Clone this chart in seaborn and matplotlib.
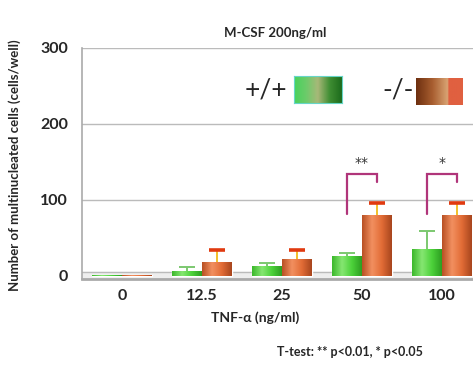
import numpy as np
import pandas as pd
import matplotlib
matplotlib.use("Agg")
import matplotlib.pyplot as plt
import seaborn as sns
from matplotlib.colors import LinearSegmentedColormap

# data
doses = ["0", "12.5", "25", "50", "100"]
genotypes = ["+/+", "-/-"]
wt_cells = [1.5, 7, 13, 26, 35]
wt_err = [0, 5, 4, 4, 24]
ko_cells = [1.5, 18, 22, 80, 80]
ko_err = [0, 16, 12, 16, 16]

# significance brackets (dose index, left leg low, top, right leg low, label)
sig_dose = [3, 4]
sig_left = [82, 82]
sig_top = [134, 134]
sig_right = [123, 123]
sig_label = ["**", "*"]

df = pd.DataFrame({
    "dose": doses * 2,
    "genotype": [genotypes[0]] * 5 + [genotypes[1]] * 5,
    "cells": wt_cells + ko_cells,
})

sns.set_style("white")
plt.rcParams["font.family"] = ["Lato", "DejaVu Sans"]

green_cmap = LinearSegmentedColormap.from_list(
    "g", ["#3CB82C", "#86E672", "#4CD23A", "#2E9E22"])
orange_cmap = LinearSegmentedColormap.from_list(
    "o", ["#B85024", "#F29060", "#E26C36", "#A8461E"])

fig = plt.figure(figsize=(4.73, 3.8), dpi=100)
ax = fig.add_axes([82 / 473, 101 / 380, 391 / 473, 231.5 / 380])

sns.barplot(
    data=df, x="dose", y="cells", hue="genotype",
    hue_order=genotypes, order=doses,
    palette=["#4CD23A", "#E26C36"], saturation=1,
    width=0.75, errorbar=None, legend=False, ax=ax, zorder=3
)

# gradient fill on the bars
grad = np.linspace(0, 1, 64).reshape(1, -1)
for cont, cmap in zip(ax.containers, [green_cmap, orange_cmap]):
    for bar in cont:
        x, y = bar.get_x(), bar.get_y()
        w, h = bar.get_width(), bar.get_height()
        im = ax.imshow(grad, extent=[x, x + w, y, y + h], cmap=cmap,
                       aspect="auto", zorder=3.5, interpolation="bicubic")
        im.set_clip_path(bar)

# upper error bars
err_style = [("#7CC870", "#7CC870", 1.4), ("#F2C02A", "#E03A10", 2.6)]
centers = []
for cont, means, errs, (stem, capc, capw) in zip(
        ax.containers, [wt_cells, ko_cells], [wt_err, ko_err], err_style):
    xs = [b.get_x() + b.get_width() / 2 for b in cont]
    centers.append(xs)
    idx = [i for i, e in enumerate(errs) if e > 0]
    eb = ax.errorbar([xs[i] for i in idx], [means[i] for i in idx],
                     yerr=[[0] * len(idx), [errs[i] for i in idx]],
                     fmt="none", ecolor=stem, elinewidth=1.4,
                     capsize=6, capthick=capw, zorder=4)
    eb[1][0].set_visible(False)
    eb[1][1].set_markeredgecolor(capc)
    eb[1][1].set_zorder(4.5)

# brackets
for d, lo_l, top, lo_r, lab in zip(sig_dose, sig_left, sig_top, sig_right, sig_label):
    xl, xr = centers[0][d], centers[1][d]
    ax.plot([xl, xl, xr, xr], [lo_l, top, top, lo_r],
            color="#B0357A", lw=1.6, zorder=5, solid_joinstyle="miter")
    ax.text((xl + xr) / 2, top + 5, lab, ha="center", va="bottom",
            fontsize=10, family="DejaVu Sans", color="#333333")

ax.set_xlim(-0.5, 4.39)
ax.set_ylim(-4, 300)
ax.set_yticks([0, 100, 200, 300])
ax.yaxis.grid(True, color="#BBBBBB", lw=1)
ax.set_axisbelow(True)
ax.axhspan(-4, 5, color="#EEEEEE", zorder=1)
ax.axhline(5, color="#BBBBBB", lw=1, zorder=1.5)
for s in ["top", "right"]:
    ax.spines[s].set_visible(False)
ax.spines["left"].set_color("#AAAAAA")
ax.spines["bottom"].set_color("#AAAAAA")
ax.spines["bottom"].set_linewidth(2)
ax.spines["left"].set_linewidth(1.2)
ax.tick_params(axis="both", length=0, labelsize=11.5, pad=7)
ax.tick_params(axis="y", pad=10)
for t in ax.get_yticklabels() + ax.get_xticklabels():
    t.set_fontweight("bold")
ax.set_xlabel("")
ax.set_ylabel("")

fig.text(275 / 473, 1 - 33 / 380, "M-CSF 200ng/ml", ha="center", va="center",
         fontsize=9.5, fontweight="bold")
fig.text(15 / 473, 1 - 165 / 380, "Number of multinucleated cells (cells/well)",
         rotation=90, ha="center", va="center", fontsize=9.5, fontweight="bold")
fig.text(255 / 473, 1 - 318 / 380, "TNF-α (ng/ml)", ha="center", va="center",
         fontsize=10, fontweight="bold")
fig.text(350 / 473, 1 - 352 / 380, "T-test: ** p<0.01, * p<0.05", ha="center",
         va="center", fontsize=9, fontweight="bold")

# legend swatches
fig.text(266 / 473, 1 - 90 / 380, "+/+", ha="center", va="center", fontsize=19)
fig.text(398 / 473, 1 - 90 / 380, "-/-", ha="center", va="center", fontsize=19)
leg_g = LinearSegmentedColormap.from_list(
    "lg", ["#48D25C", "#6CCB6A", "#A8B878", "#3F8E33", "#1D6B1C"])
leg_o = LinearSegmentedColormap.from_list(
    "lo", [(0, "#6E3010"), (0.35, "#A85E30"), (0.68, "#D9A474"),
           (0.7, "#E06040"), (1, "#E06040")])
for (x0, y0, x1, y1), cm, ec in [((294, 76, 342, 103), leg_g, "#66D6C8"),
                                  ((416, 78, 463, 105), leg_o, "none")]:
    lax = fig.add_axes([x0 / 473, 1 - y1 / 380, (x1 - x0) / 473, (y1 - y0) / 380])
    lax.imshow(grad, cmap=cm, aspect="auto")
    lax.set_xticks([])
    lax.set_yticks([])
    for s in lax.spines.values():
        s.set_color(ec)
        s.set_linewidth(0.8)
        if ec == "none":
            s.set_visible(False)

fig.savefig("out.png", dpi=100)
